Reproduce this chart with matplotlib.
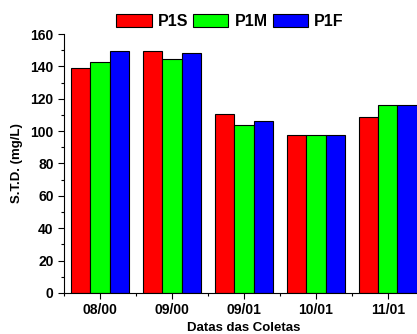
import matplotlib.pyplot as plt
import numpy as np
from matplotlib.ticker import MultipleLocator, FixedLocator

plt.rcParams['font.family'] = ['Liberation Sans', 'DejaVu Sans']
plt.rcParams['font.weight'] = 'bold'

dates = ['08/00', '09/00', '09/01', '10/01', '11/01']
p1s = [139, 149.5, 110.5, 97.5, 108.5]
p1m = [142.5, 144.5, 103.5, 97.5, 116]
p1f = [149.5, 148.5, 106, 97.5, 116]

fig = plt.figure(figsize=(4.17, 3.34), dpi=100)
ax = fig.add_axes([0.1535, 0.1228, 0.863, 0.7754])

x = np.arange(len(dates))
w = 0.8 / 3
ax.bar(x - w, p1s, w, color='#ff0000', edgecolor='black', linewidth=0.8, label='P1S')
ax.bar(x, p1m, w, color='#00ff00', edgecolor='black', linewidth=0.8, label='P1M')
ax.bar(x + w, p1f, w, color='#0000ff', edgecolor='black', linewidth=0.8, label='P1F')

ax.set_xlim(-0.5, 4.5)
ax.set_ylim(0, 160)
ax.set_xticks(x)
ax.set_xticklabels(dates)
ax.xaxis.set_minor_locator(FixedLocator(np.arange(-0.5, 5, 1)))
ax.yaxis.set_major_locator(MultipleLocator(20))
ax.yaxis.set_minor_locator(MultipleLocator(10))
ax.tick_params(which='major', direction='out', length=4, width=0.8, labelsize=10)
ax.tick_params(which='minor', direction='out', length=2.5, width=0.8)

for s in ['top', 'right']:
    ax.spines[s].set_visible(False)

ax.set_xlabel('Datas das Coletas', fontsize=9.5, fontweight='bold', labelpad=3)
ax.set_ylabel('S.T.D. (mg/L)', fontsize=9.5, fontweight='bold', labelpad=5)

fig.legend(loc='center', bbox_to_anchor=(0.552, 0.935), ncol=3, frameon=False,
           prop={'size': 11.5, 'weight': 'bold'}, handlelength=2.2, handleheight=0.9,
           handletextpad=0.4, columnspacing=0.3)

fig.savefig('out.png', dpi=100)
